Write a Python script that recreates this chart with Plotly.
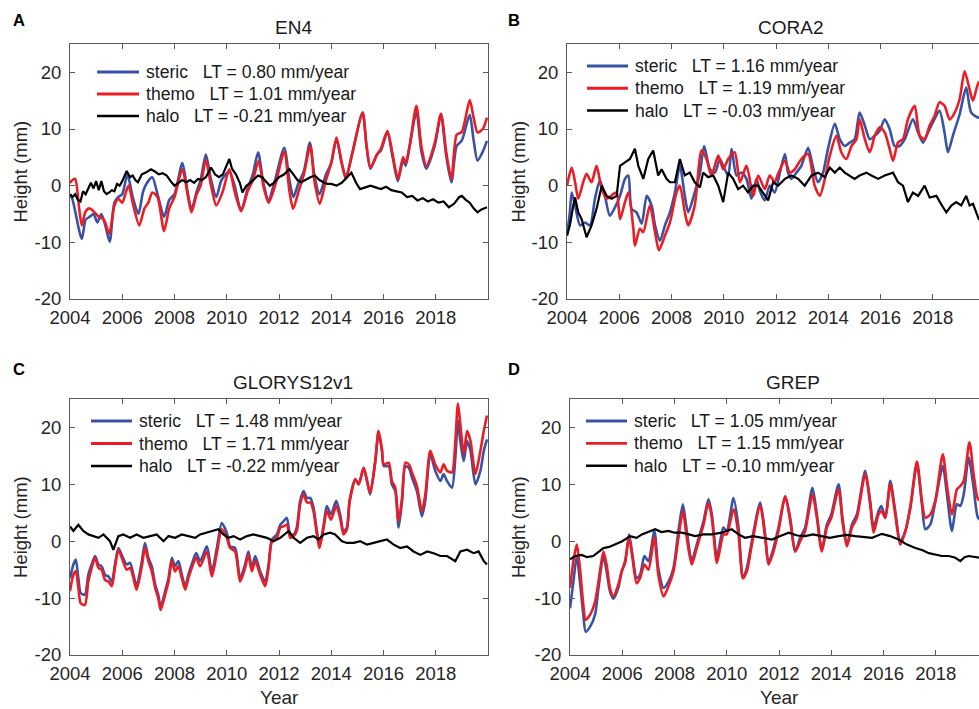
import plotly.graph_objects as go

W, H = 979, 709
FONT = "Liberation Sans, Arial, Helvetica, sans-serif"

# ---------------- Panel A : EN4 ----------------
A_steric_t = [2004.0, 2004.1, 2004.45, 2004.6, 2004.75, 2004.9, 2005.05, 2005.2, 2005.35, 2005.52, 2005.7, 2005.85,
              2006.0, 2006.2, 2006.4, 2006.62, 2006.8, 2006.95, 2007.15, 2007.35, 2007.6, 2007.8, 2008.0, 2008.3,
              2008.5, 2008.65, 2008.85, 2009.0, 2009.2, 2009.4, 2009.6, 2009.8, 2010.1, 2010.3, 2010.55, 2010.8,
              2011.0, 2011.2, 2011.4, 2011.6, 2011.85, 2012.2, 2012.4, 2012.55, 2012.75, 2012.95, 2013.18, 2013.35,
              2013.55, 2013.8, 2014.0, 2014.2, 2014.4, 2014.56, 2014.8, 2015.2, 2015.35, 2015.5, 2015.75, 2015.9,
              2016.15, 2016.35, 2016.55, 2016.75, 2016.85, 2017.0, 2017.26, 2017.45, 2017.64, 2017.96, 2018.2, 2018.4,
              2018.6, 2018.8, 2019.0, 2019.3, 2019.45, 2019.6, 2019.8, 2019.96]
A_steric_v = [-1.5, -2.5, -9.4, -6.0, -5.5, -5.0, -6.5, -5.0, -7.0, -9.9, -3.0, -2.0,
              -1.5, 2.0, -2.0, -5.0, -1.0, 0.5, 1.5, -1.5, -5.5, -2.5, -1.5, 4.0,
              -1.0, -4.2, -1.0, 1.0, 5.5, 1.0, -2.0, 1.0, 2.5, 0.0, -4.4, -0.5,
              2.0, 5.9, 0.5, -2.5, 1.0, 6.7, 1.0, -2.0, 0.5, 2.5, 7.6, 2.0,
              -1.5, 2.0, 4.0, 8.2, 4.0, 1.5, 5.6, 12.9, 7.0, 3.0, 5.5, 6.2,
              9.4, 5.0, 0.8, 4.5, 3.5, 7.0, 13.0, 6.0, 3.0, 7.0, 12.5, 5.3,
              0.6, 7.0, 8.0, 12.5, 8.0, 4.4, 6.0, 7.9]
A_thermo_t = [2004.0, 2004.1, 2004.2, 2004.35, 2004.45, 2004.6, 2004.75, 2004.9, 2005.1, 2005.3, 2005.5, 2005.7,
              2005.85, 2006.0, 2006.15, 2006.25, 2006.4, 2006.65, 2006.85, 2007.0, 2007.15, 2007.35, 2007.6, 2007.8,
              2008.0, 2008.3, 2008.5, 2008.65, 2008.85, 2009.0, 2009.2, 2009.4, 2009.6, 2009.85, 2010.1, 2010.3,
              2010.55, 2010.8, 2011.0, 2011.22, 2011.4, 2011.6, 2011.85, 2012.2, 2012.4, 2012.54, 2012.75, 2012.95,
              2013.2, 2013.35, 2013.56, 2013.8, 2014.0, 2014.2, 2014.4, 2014.56, 2014.8, 2015.2, 2015.35, 2015.5,
              2015.75, 2015.9, 2016.15, 2016.35, 2016.55, 2016.75, 2016.85, 2017.0, 2017.26, 2017.45, 2017.64, 2017.96,
              2018.2, 2018.4, 2018.6, 2018.8, 2019.0, 2019.3, 2019.45, 2019.6, 2019.8, 2019.96]
A_thermo_v = [0.5, 1.0, 1.2, -4.0, -7.0, -4.5, -4.0, -4.5, -5.5, -6.0, -8.5, -3.5,
              -2.3, -3.0, -1.0, 0.0, -3.0, -7.0, -4.0, -3.0, -1.2, -2.0, -8.0, -4.0,
              -2.0, 2.9, -1.5, -4.7, -1.5, 0.0, 4.5, 0.0, -3.5, -1.0, 2.9, -1.0,
              -4.5, -1.0, 1.0, 4.4, 0.0, -3.0, 0.0, 6.0, -1.0, -4.1, -1.0, 2.0,
              7.0, 1.0, -3.2, 1.0, 4.0, 8.5, 4.0, 1.2, 5.6, 12.9, 7.0, 3.2,
              5.5, 6.5, 9.7, 5.5, 1.2, 5.0, 4.0, 7.0, 14.1, 7.0, 3.5, 7.5,
              12.7, 6.0, 1.2, 9.0, 9.5, 15.1, 12.0, 9.4, 10.0, 12.0]
A_halo_t = [2004.0, 2004.1, 2004.2, 2004.3, 2004.4, 2004.5, 2004.6, 2004.7, 2004.8, 2004.9, 2005.0, 2005.1,
            2005.2, 2005.3, 2005.4, 2005.5, 2005.6, 2005.7, 2005.8, 2005.9, 2006.0, 2006.17, 2006.3, 2006.4,
            2006.5, 2006.6, 2006.75, 2006.9, 2007.1, 2007.25, 2007.4, 2007.55, 2007.7, 2007.85, 2008.0, 2008.15,
            2008.3, 2008.45, 2008.6, 2008.75, 2008.9, 2009.05, 2009.2, 2009.4, 2009.55, 2009.7, 2009.85, 2010.1,
            2010.2, 2010.35, 2010.5, 2010.6, 2010.75, 2010.9, 2011.05, 2011.2, 2011.35, 2011.5, 2011.65, 2011.8,
            2012.0, 2012.2, 2012.4, 2012.55, 2012.7, 2012.85, 2013.0, 2013.2, 2013.37, 2013.55, 2013.7, 2013.85,
            2014.0, 2014.2, 2014.4, 2014.6, 2014.77, 2014.95, 2015.1, 2015.3, 2015.5, 2015.7, 2015.9, 2016.1,
            2016.3, 2016.5, 2016.7, 2016.9, 2017.1, 2017.3, 2017.5, 2017.7, 2017.9, 2018.1, 2018.3, 2018.5,
            2018.7, 2018.9, 2019.0, 2019.15, 2019.3, 2019.45, 2019.6, 2019.75, 2019.96]
A_halo_v = [-1.5, -2.0, -1.5, -2.5, -2.8, -1.0, -1.5, -0.5, 0.5, -0.5, 0.8, -0.8,
            0.8, -1.0, -1.5, -1.2, -0.8, -1.0, 0.3, 0.0, 0.8, 2.6, 1.5, 1.8,
            1.0, 0.6, 2.0, 2.3, 2.9, 2.5, 2.0, 2.2, 1.8, 0.8, 0.0, 0.5,
            1.0, 0.6, 1.0, 0.5, 1.2, 1.0, 1.5, 3.2, 2.0, 1.5, 2.0, 4.7,
            3.0, 2.0, 0.5, -1.2, 0.0, 0.5, 1.2, 1.8, 1.5, 0.8, 0.0, 0.5,
            1.5, 2.0, 2.9, 2.0, 1.0, 0.6, 1.0, 1.5, 1.8, 1.0, 0.6, 0.3,
            0.3, 0.0, 0.5, 1.5, 2.3, 0.5, -0.6, -0.3, 0.0, -0.3, -0.6, -0.2,
            -0.8, -1.0, -1.2, -2.0, -1.8, -2.6, -2.2, -2.8, -2.4, -3.0, -2.8, -3.8,
            -3.2, -2.0, -1.8, -2.5, -3.0, -4.0, -4.7, -4.2, -3.8]

# ---------------- Panel B : CORA2 ----------------
B_steric_t = [2004.00, 2004.11, 2004.18, 2004.31, 2004.50, 2004.69, 2004.88, 2005.07, 2005.26, 2005.45, 2005.64, 2005.84,
              2006.03, 2006.22, 2006.35, 2006.47, 2006.66, 2006.86, 2007.05, 2007.24, 2007.37, 2007.56, 2007.75, 2007.94,
              2008.13, 2008.32, 2008.51, 2008.64, 2008.89, 2009.09, 2009.25, 2009.47, 2009.66, 2009.85, 2009.98, 2010.17,
              2010.30, 2010.49, 2010.68, 2010.87, 2011.06, 2011.25, 2011.38, 2011.57, 2011.76, 2011.95, 2012.15, 2012.34,
              2012.46, 2012.59, 2012.78, 2012.97, 2013.23, 2013.42, 2013.61, 2013.80, 2013.99, 2014.25, 2014.44, 2014.63,
              2014.82, 2015.01, 2015.20, 2015.40, 2015.59, 2015.78, 2015.97, 2016.16, 2016.35, 2016.54, 2016.73, 2016.93,
              2017.24, 2017.44, 2017.63, 2017.82, 2018.01, 2018.26, 2018.45, 2018.58, 2018.77, 2019.03, 2019.28, 2019.47,
              2019.76, 2019.95]
B_steric_v = [-8.8, -4.7, -1.2, -3.5, -7.0, -6.5, -7.0, -2.3, 0.9, -1.8, -5.3, -3.8,
              -1.8, 1.2, 1.8, -4.1, -4.7, -6.7, -1.8, -3.5, -7.0, -9.7, -7.0, -4.7,
              -1.2, 3.5, -1.8, -4.7, -1.2, 2.3, 7.0, 2.9, 2.3, 4.7, 3.5, 1.8,
              6.5, 1.8, 2.3, 1.2, -2.3, 1.2, -0.9, -2.6, 0.0, -1.2, 2.3, 5.6,
              2.3, 1.2, 2.3, 3.5, 6.7, 3.2, 0.6, 2.3, 6.5, 10.9, 8.2, 7.0,
              7.6, 8.2, 12.9, 10.6, 8.2, 8.8, 9.7, 11.7, 10.0, 7.0, 7.0, 8.2,
              11.7, 9.4, 7.6, 9.4, 11.2, 13.2, 9.4, 5.9, 8.8, 12.6, 17.3, 12.9,
              12.0, 12.5]
B_thermo_t = [2004.00, 2004.18, 2004.31, 2004.43, 2004.62, 2004.75, 2004.94, 2005.13, 2005.33, 2005.52, 2005.77, 2005.90,
              2006.03, 2006.22, 2006.35, 2006.54, 2006.60, 2006.79, 2006.92, 2007.17, 2007.37, 2007.52, 2007.75, 2007.94,
              2008.19, 2008.32, 2008.51, 2008.64, 2008.89, 2009.15, 2009.34, 2009.53, 2009.79, 2009.98, 2010.17, 2010.42,
              2010.62, 2010.87, 2011.13, 2011.32, 2011.57, 2011.76, 2011.95, 2012.08, 2012.34, 2012.53, 2012.72, 2012.97,
              2013.23, 2013.48, 2013.68, 2013.87, 2014.06, 2014.31, 2014.50, 2014.69, 2014.89, 2015.08, 2015.20, 2015.40,
              2015.59, 2015.78, 2015.97, 2016.16, 2016.35, 2016.48, 2016.67, 2016.86, 2017.05, 2017.31, 2017.50, 2017.69,
              2017.88, 2018.07, 2018.26, 2018.45, 2018.65, 2018.84, 2019.03, 2019.22, 2019.41, 2019.54, 2019.76, 2019.95]
B_thermo_v = [0.0, 3.2, 0.6, -2.3, 0.6, 2.1, 0.6, 3.5, -0.6, -2.3, -1.5, -1.2,
              -5.9, -2.9, -1.2, -7.6, -10.6, -7.6, -8.2, -3.5, -8.2, -11.4, -8.8, -6.5,
              -1.2, 0.0, -4.7, -7.0, -3.5, 6.2, 4.7, 1.8, 5.3, 2.9, 4.7, 5.9,
              0.6, 3.5, -1.8, 1.8, -0.6, 1.8, 0.6, 2.1, 4.4, 2.3, 2.9, 4.7,
              5.6, 0.0, -1.8, 1.2, 5.3, 8.8, 5.9, 4.7, 7.0, 8.2, 11.7, 8.2,
              5.9, 8.8, 10.3, 9.4, 6.5, 4.4, 7.6, 8.2, 11.7, 14.1, 8.8, 8.2,
              10.6, 12.3, 14.7, 14.1, 11.7, 12.9, 15.3, 20.2, 17.0, 15.0, 18.2, 18.5]
B_halo_t = [2004.00, 2004.11, 2004.24, 2004.31, 2004.43, 2004.56, 2004.75, 2004.94, 2005.13, 2005.33, 2005.52, 2005.71,
            2005.90, 2006.03, 2006.22, 2006.41, 2006.60, 2006.73, 2006.92, 2007.11, 2007.30, 2007.49, 2007.62, 2007.81,
            2007.94, 2008.13, 2008.32, 2008.51, 2008.70, 2008.89, 2009.09, 2009.21, 2009.40, 2009.60, 2009.79, 2009.98,
            2010.17, 2010.36, 2010.55, 2010.74, 2010.93, 2011.13, 2011.32, 2011.51, 2011.70, 2011.89, 2012.08, 2012.34,
            2012.59, 2012.85, 2013.10, 2013.36, 2013.61, 2013.87, 2014.06, 2014.25, 2014.44, 2014.63, 2014.82, 2015.01,
            2015.20, 2015.46, 2015.65, 2015.91, 2016.16, 2016.48, 2016.67, 2016.86, 2017.05, 2017.24, 2017.44, 2017.69,
            2017.88, 2018.14, 2018.39, 2018.52, 2018.71, 2018.90, 2019.09, 2019.28, 2019.41, 2019.54, 2019.76, 2019.95]
B_halo_v = [-8.8, -7.0, -3.5, -2.1, -4.7, -5.9, -9.1, -7.0, -4.1, 0.0, -1.8, -2.3,
            -1.8, 3.5, 4.1, 4.7, 6.5, 3.5, 1.2, 4.7, 6.2, 1.8, 2.9, 1.2,
            0.6, 0.6, 4.7, 1.8, 2.3, 0.6, -0.3, 2.3, 1.5, 1.8, 0.0, -2.9,
            2.3, 1.2, -0.6, 0.0, -1.2, 0.0, 0.0, -1.2, -2.6, 0.6, 0.0, 1.2,
            1.8, 1.2, 0.0, 1.8, 2.3, 1.5, 3.2, 2.3, 3.2, 2.3, 1.8, 1.2,
            1.8, 2.3, 1.8, 1.2, 1.8, 2.3, 0.6, 0.0, -2.9, -1.2, -1.8, 0.0,
            -2.1, -1.8, -3.8, -4.7, -3.5, -2.9, -3.5, -1.8, -3.5, -3.2, -5.9, -6.0]

# ---------------- Panel C : GLORYS12v1 ----------------
C_steric_t = [2004.00, 2004.13, 2004.22, 2004.32, 2004.41, 2004.57, 2004.70, 2004.83, 2004.96, 2005.09, 2005.21, 2005.34,
              2005.47, 2005.60, 2005.72, 2005.85, 2005.98, 2006.17, 2006.30, 2006.43, 2006.55, 2006.75, 2006.87, 2007.00,
              2007.13, 2007.26, 2007.38, 2007.47, 2007.64, 2007.77, 2007.90, 2008.02, 2008.15, 2008.28, 2008.41, 2008.53,
              2008.66, 2008.83, 2008.98, 2009.24, 2009.43, 2009.62, 2009.81, 2010.00, 2010.13, 2010.32, 2010.51, 2010.70,
              2010.83, 2010.96, 2011.09, 2011.28, 2011.47, 2011.60, 2011.73, 2011.92, 2012.05, 2012.17, 2012.30, 2012.43,
              2012.56, 2012.68, 2012.81, 2012.94, 2013.07, 2013.20, 2013.32, 2013.45, 2013.55, 2013.71, 2013.83, 2013.99,
              2014.19, 2014.34, 2014.47, 2014.60, 2014.70, 2014.92, 2015.05, 2015.24, 2015.37, 2015.49, 2015.69, 2015.81,
              2015.94, 2016.01, 2016.20, 2016.32, 2016.45, 2016.58, 2016.71, 2016.84, 2016.97, 2017.09, 2017.28, 2017.47,
              2017.60, 2017.79, 2017.98, 2018.18, 2018.30, 2018.43, 2018.62, 2018.75, 2018.85, 2018.94, 2019.07, 2019.20,
              2019.33, 2019.52, 2019.71, 2019.84, 2019.96]
C_steric_v = [-6.5, -4.1, -3.2, -6.5, -9.1, -9.4, -5.9, -4.1, -2.6, -4.1, -4.4, -5.9,
              -6.2, -7.1, -4.1, -1.2, -2.4, -4.1, -3.8, -5.9, -7.9, -3.5, -0.3, -2.9,
              -4.4, -7.6, -9.4, -11.5, -8.8, -6.5, -2.9, -4.4, -3.5, -5.9, -7.9, -5.9,
              -4.1, -2.1, -3.5, -0.9, -5.3, -1.2, 3.2, 1.5, -0.9, -1.2, -6.5, -4.1,
              -1.8, -4.7, -2.6, -5.3, -7.1, -4.1, 0.3, 1.2, 2.9, 3.5, 4.1, 1.2,
              1.2, 2.4, 7.1, 8.8, 7.6, 7.6, 5.9, 1.8, -0.9, 2.9, 6.2, 4.7,
              7.1, 4.7, 1.8, 2.4, 7.1, 10.9, 10.0, 12.9, 10.6, 8.2, 14.1, 19.1,
              15.9, 13.2, 13.2, 10.0, 8.8, 2.4, 7.1, 13.2, 12.9, 11.2, 8.8, 4.4,
              7.1, 15.3, 12.4, 10.6, 11.8, 10.6, 9.4, 14.7, 21.2, 17.6, 14.1, 17.6,
              15.9, 10.0, 12.4, 15.9, 17.9]
C_thermo_t = C_steric_t
C_thermo_v = [-8.8, -5.9, -5.3, -8.2, -10.9, -11.2, -7.1, -4.7, -2.9, -4.7, -5.0, -6.8,
              -7.1, -7.9, -4.7, -1.5, -2.9, -5.0, -4.7, -6.5, -8.5, -4.4, -1.2, -3.5,
              -5.3, -8.2, -10.0, -12.1, -9.4, -7.1, -3.5, -5.3, -4.4, -6.5, -8.5, -6.5,
              -4.7, -2.9, -4.4, -1.8, -6.2, -2.1, 2.1, 0.6, -1.2, -1.8, -7.1, -4.7,
              -2.4, -5.3, -3.5, -5.9, -7.9, -4.7, 0.0, 0.6, 2.4, 2.6, 2.9, 0.6,
              0.9, 1.8, 6.5, 8.2, 6.8, 6.8, 5.3, 1.2, -1.2, 2.4, 5.3, 3.8,
              6.2, 4.1, 1.2, 2.1, 6.8, 10.9, 10.0, 12.9, 10.6, 8.5, 14.4, 19.4,
              16.2, 13.5, 13.8, 10.6, 9.4, 3.5, 7.6, 13.8, 13.5, 12.1, 9.7, 5.3,
              8.2, 15.9, 13.5, 12.1, 13.5, 12.4, 12.1, 17.6, 24.2, 20.6, 15.3, 19.4,
              17.6, 11.8, 15.9, 19.4, 22.1]
C_halo_t = [2004.00, 2004.13, 2004.32, 2004.51, 2004.70, 2004.89, 2005.09, 2005.28, 2005.53, 2005.66, 2005.85, 2006.04,
            2006.30, 2006.55, 2006.81, 2007.07, 2007.32, 2007.58, 2007.77, 2008.02, 2008.28, 2008.53, 2008.79, 2008.98,
            2009.24, 2009.49, 2009.68, 2009.87, 2010.07, 2010.26, 2010.51, 2010.77, 2011.02, 2011.28, 2011.54, 2011.79,
            2012.05, 2012.37, 2012.56, 2012.81, 2013.07, 2013.32, 2013.51, 2013.71, 2013.96, 2014.15, 2014.41, 2014.60,
            2014.86, 2015.11, 2015.37, 2015.62, 2015.88, 2016.13, 2016.39, 2016.64, 2016.90, 2017.15, 2017.41, 2017.67,
            2017.92, 2018.18, 2018.43, 2018.75, 2018.94, 2019.20, 2019.45, 2019.64, 2019.84, 2019.96]
C_halo_v = [2.6, 1.8, 2.9, 1.8, 1.2, 0.9, 0.6, 1.2, 0.0, -1.5, 0.9, 1.2,
            0.6, 1.2, 0.6, 0.9, 1.2, 0.0, 0.9, 0.6, 1.2, 0.9, 0.6, 1.2,
            1.5, 1.8, 2.1, 1.2, 0.6, 0.9, 0.3, 0.9, 1.2, 0.9, 0.6, 0.0,
            0.6, 1.8, 0.6, -0.3, 0.6, 0.9, 0.3, 1.2, 1.5, 1.2, 0.0, -0.3,
            -0.3, 0.0, -0.6, -0.3, 0.0, 0.3, -0.6, -1.2, -0.9, -1.8, -2.4, -1.8,
            -2.1, -2.6, -2.6, -3.5, -1.8, -1.5, -2.1, -1.8, -3.5, -4.1]

# ---------------- Panel D : GREP ----------------
D_steric_t = [2004.00, 2004.13, 2004.26, 2004.38, 2004.51, 2004.60, 2004.77, 2004.96, 2005.09, 2005.28, 2005.40, 2005.53,
              2005.66, 2005.85, 2005.98, 2006.11, 2006.26, 2006.39, 2006.55, 2006.68, 2006.85, 2007.00, 2007.23, 2007.38,
              2007.58, 2007.77, 2007.96, 2008.15, 2008.32, 2008.47, 2008.60, 2008.66, 2008.85, 2009.11, 2009.30, 2009.43,
              2009.62, 2009.75, 2009.87, 2010.00, 2010.26, 2010.45, 2010.62, 2010.77, 2010.96, 2011.28, 2011.47, 2011.60,
              2011.79, 2011.98, 2012.24, 2012.43, 2012.62, 2012.81, 2013.00, 2013.28, 2013.45, 2013.64, 2013.83, 2014.00,
              2014.28, 2014.43, 2014.60, 2014.79, 2014.98, 2015.30, 2015.49, 2015.62, 2015.81, 2015.92, 2016.07, 2016.26,
              2016.45, 2016.64, 2016.84, 2017.03, 2017.28, 2017.47, 2017.60, 2017.79, 2017.98, 2018.27, 2018.43, 2018.62,
              2018.81, 2018.94, 2019.07, 2019.26, 2019.45, 2019.62, 2019.80]
D_steric_v = [-11.8, -7.1, -2.6, -7.1, -12.9, -15.9, -15.0, -12.9, -8.2, -2.6, -5.3, -8.8,
              -10.1, -8.2, -5.3, -3.8, 1.2, -2.4, -6.5, -5.9, -2.6, -3.5, 1.8, -4.7,
              -8.2, -7.1, -4.7, 1.8, 6.5, 1.8, -2.4, -3.5, -0.6, 3.5, 7.4, 4.7,
              -2.9, 0.0, 2.4, 1.8, 7.6, 2.4, -6.5, -4.7, 0.0, 6.8, 1.2, -3.8,
              -1.2, 2.4, 7.9, 4.1, -1.8, 0.6, 2.4, 9.4, 4.7, -1.5, 2.9, 4.7,
              10.0, 4.1, -0.6, 2.9, 4.7, 12.4, 7.1, 2.4, 5.3, 6.2, 4.1, 10.6,
              5.3, 0.0, 1.8, 5.9, 13.5, 6.5, 2.1, 2.9, 6.8, 13.2, 8.2, 1.8,
              6.5, 6.2, 8.2, 14.7, 9.4, 4.1, 3.5]
D_thermo_t = [2004.00, 2004.13, 2004.26, 2004.38, 2004.51, 2004.60, 2004.77, 2004.96, 2005.09, 2005.28, 2005.40, 2005.53,
              2005.66, 2005.85, 2005.98, 2006.11, 2006.26, 2006.39, 2006.55, 2006.68, 2006.85, 2007.00, 2007.23, 2007.38,
              2007.58, 2007.77, 2007.96, 2008.15, 2008.32, 2008.47, 2008.66, 2008.85, 2009.11, 2009.30, 2009.43, 2009.62,
              2009.75, 2009.87, 2010.00, 2010.26, 2010.45, 2010.62, 2010.77, 2010.96, 2011.28, 2011.47, 2011.60, 2011.79,
              2011.98, 2012.24, 2012.43, 2012.62, 2012.81, 2013.00, 2013.28, 2013.45, 2013.64, 2013.83, 2014.00, 2014.28,
              2014.43, 2014.60, 2014.79, 2014.98, 2015.30, 2015.49, 2015.62, 2015.81, 2015.92, 2016.07, 2016.26, 2016.45,
              2016.64, 2016.84, 2017.03, 2017.28, 2017.47, 2017.60, 2017.79, 2017.98, 2018.27, 2018.43, 2018.62, 2018.81,
              2018.94, 2019.07, 2019.29, 2019.45, 2019.62, 2019.80]
D_thermo_v = [-8.2, -3.5, -0.6, -4.7, -11.2, -13.8, -12.9, -10.6, -7.1, -1.8, -4.1, -8.2,
              -9.7, -7.6, -5.3, -3.5, 0.6, -2.9, -7.4, -6.5, -4.1, -5.0, 0.6, -5.9,
              -9.7, -7.9, -5.3, 0.6, 5.3, 0.6, -4.1, -1.2, 2.9, 6.8, 4.1, -3.8,
              -1.2, 1.2, 1.2, 5.6, 1.2, -6.5, -5.3, -0.6, 6.2, 0.6, -4.1, -1.8,
              1.8, 7.9, 3.5, -1.8, 0.0, 1.8, 8.2, 4.1, -1.8, 2.4, 4.1, 9.1,
              3.5, -0.9, 2.4, 4.1, 11.8, 6.5, 1.5, 4.7, 5.3, 4.1, 10.0, 4.7,
              -0.6, 1.8, 6.2, 14.0, 7.1, 4.1, 4.7, 7.1, 15.3, 9.7, 4.7, 9.1,
              9.7, 10.6, 17.4, 11.8, 7.4, 7.0]
D_halo_t = [2004.00, 2004.20, 2004.45, 2004.65, 2004.89, 2005.10, 2005.28, 2005.50, 2005.72, 2006.00, 2006.30, 2006.55,
            2006.75, 2007.00, 2007.26, 2007.50, 2007.77, 2008.00, 2008.28, 2008.55, 2008.79, 2009.10, 2009.43, 2009.80,
            2010.19, 2010.45, 2010.70, 2011.00, 2011.34, 2011.73, 2012.05, 2012.37, 2012.70, 2013.00, 2013.30, 2013.64,
            2013.95, 2014.28, 2014.60, 2014.92, 2015.25, 2015.56, 2015.94, 2016.25, 2016.58, 2016.90, 2017.22, 2017.50,
            2017.73, 2018.00, 2018.24, 2018.50, 2018.75, 2018.94, 2019.10, 2019.26, 2019.45, 2019.67, 2019.85]
D_halo_v = [-3.2, -2.6, -2.4, -2.8, -2.6, -1.8, -1.2, -1.0, -0.6, 0.0, 0.9, 0.6,
            1.2, 1.6, 2.1, 1.6, 1.8, 1.5, 1.5, 1.2, 0.9, 1.2, 1.2, 1.5,
            2.1, 1.2, 0.6, 0.9, 0.6, 0.3, 0.9, 1.5, 1.0, 0.9, 1.2, 0.9,
            0.6, 0.9, 1.1, 0.9, 0.8, 0.6, 1.3, 0.9, 0.3, -0.6, -1.2, -1.6,
            -2.1, -2.3, -2.6, -2.6, -2.9, -3.5, -2.8, -2.6, -2.8, -2.9, -3.0]

LEGEND_TEXT = {
    "A": ["steric\u00a0\u00a0\u00a0LT = 0.80 mm/year", "themo\u00a0\u00a0\u00a0LT = 1.01 mm/year", "halo\u00a0\u00a0\u00a0LT = -0.21 mm/year"],
    "B": ["steric\u00a0\u00a0\u00a0LT = 1.16 mm/year", "themo\u00a0\u00a0\u00a0LT = 1.19 mm/year", "halo\u00a0\u00a0\u00a0LT = -0.03 mm/year"],
    "C": ["steric\u00a0\u00a0\u00a0LT = 1.48 mm/year", "themo\u00a0\u00a0\u00a0LT = 1.71 mm/year", "halo\u00a0\u00a0\u00a0LT = -0.22 mm/year"],
    "D": ["steric\u00a0\u00a0\u00a0LT = 1.05 mm/year", "themo\u00a0\u00a0\u00a0LT = 1.15 mm/year", "halo\u00a0\u00a0\u00a0LT = -0.10 mm/year"],
}
TITLES = {"A": "EN4", "B": "CORA2", "C": "GLORYS12v1", "D": "GREP"}
X_TICKS = [2004, 2006, 2008, 2010, 2012, 2014, 2016, 2018]
Y_TICKS = [-20, -10, 0, 10, 20]

BLUE = "#3953a4"
RED = "#ec1c24"
BLACK = "#000000"
AXC = "#5a5a5a"

DATA = {
    "A": [(A_steric_t, A_steric_v), (A_thermo_t, A_thermo_v), (A_halo_t, A_halo_v)],
    "B": [(B_steric_t, B_steric_v), (B_thermo_t, B_thermo_v), (B_halo_t, B_halo_v)],
    "C": [(C_steric_t, C_steric_v), (C_thermo_t, C_thermo_v), (C_halo_t, C_halo_v)],
    "D": [(D_steric_t, D_steric_v), (D_thermo_t, D_thermo_v), (D_halo_t, D_halo_v)],
}

# layout geometry in pixels (left, right, top, bottom)
GEOM = {
    "A": (70, 488, 44, 299),
    "B": (567, 985, 44, 299),
    "C": (70, 488, 399, 655),
    "D": (570, 988, 399, 655),
}
# legend key: line start, line end, text start, first row y, row step (pixels)
LEG = {
    "A": (97, 139, 144, 72, 22),
    "B": (587, 628, 633, 66, 22.3),
    "C": (91, 132, 137, 421, 22.5),
    "D": (586, 627, 632, 421, 22.4),
}

COLORS = [BLUE, RED, BLACK]
WIDTHS = [2.6, 2.6, 2.2]

fig = go.Figure()
annotations = []
shapes = []
for idx, key in enumerate(["A", "B", "C", "D"]):
    n = idx + 1
    xa = "x" if n == 1 else f"x{n}"
    ya = "y" if n == 1 else f"y{n}"
    for j, (t, v) in enumerate(DATA[key]):
        fig.add_trace(go.Scatter(
            x=t, y=v, mode="lines", name=LEGEND_TEXT[key][j],
            line=dict(color=COLORS[j], width=WIDTHS[j],
                      shape="spline" if j < 2 else "linear", smoothing=0.7),
            xaxis=xa, yaxis=ya, showlegend=False,
        ))
    l, r, t_, b = GEOM[key]
    ppy = (r - l) / 16.0
    xmax = 2004 + (min(r, W) - l) / ppy
    full_box = r <= W
    xaxis = dict(
        domain=[l / W, min(r, W) / W], range=[2004, xmax], anchor=ya,
        tickvals=X_TICKS, ticktext=[str(v) for v in X_TICKS],
        showline=True, linecolor=AXC, linewidth=1, mirror="ticks",
        ticks="inside", ticklen=5, tickcolor=AXC, tickwidth=1,
        showgrid=False, zeroline=False, automargin=False,
        tickfont=dict(family=FONT, size=18.5, color="#262626"),
        ticklabelstandoff=2,
    )
    yaxis = dict(
        domain=[1 - b / H, 1 - t_ / H], range=[-20, 25], anchor=xa,
        tickvals=Y_TICKS, ticktext=[str(v) for v in Y_TICKS],
        showline=True, linecolor=AXC, linewidth=1,
        mirror="ticks" if full_box else False,
        ticks="inside", ticklen=5, tickcolor=AXC, tickwidth=1,
        showgrid=False, zeroline=False, automargin=False,
        tickfont=dict(family=FONT, size=18.5, color="#262626"),
        ticklabelstandoff=4,
    )
    fig.update_layout({("xaxis" if n == 1 else f"xaxis{n}"): xaxis,
                       ("yaxis" if n == 1 else f"yaxis{n}"): yaxis})

    # legend (key lines + labels)
    x0, x1, tx, y0, dy = LEG[key]
    for j in range(3):
        yy = 1 - (y0 + j * dy) / H
        shapes.append(dict(type="line", xref="paper", yref="paper", x0=x0 / W, x1=x1 / W, y0=yy, y1=yy,
                           line=dict(color=COLORS[j], width=WIDTHS[j] + 0.3)))
        annotations.append(dict(text=LEGEND_TEXT[key][j], x=tx / W, y=yy, xref="paper", yref="paper",
                                showarrow=False, xanchor="left", yanchor="middle",
                                font=dict(family=FONT, size=17.6, color="#1a1a1a")))
    # panel title
    cx = (l + r) / 2 + 14
    cy = t_ - 17
    annotations.append(dict(text=TITLES[key], x=cx / W, y=1 - cy / H, xref="paper", yref="paper",
                            showarrow=False, xanchor="center", yanchor="middle",
                            font=dict(family=FONT, size=19, color="#1a1a1a")))
    # panel letter
    lab_x = 19 if l < 300 else 514
    lab_y = 20 if t_ < 300 else 369
    annotations.append(dict(text="<b>%s</b>" % key, x=lab_x / W, y=1 - lab_y / H, xref="paper", yref="paper",
                            showarrow=False, xanchor="center", yanchor="middle",
                            font=dict(family=FONT, size=16.5, color="#000000")))
    # y axis title
    ytx = 20 if l < 300 else 518
    annotations.append(dict(text="Height (mm)", x=ytx / W, y=1 - ((t_ + b) / 2) / H, xref="paper", yref="paper",
                            showarrow=False, xanchor="center", yanchor="middle", textangle=-90,
                            font=dict(family=FONT, size=18.5, color="#262626")))
    if key in ("C", "D"):
        annotations.append(dict(text="Year", x=((l + r) / 2) / W, y=1 - 697 / H, xref="paper", yref="paper",
                                showarrow=False, xanchor="center", yanchor="middle",
                                font=dict(family=FONT, size=19, color="#262626")))

fig.update_layout(
    template="none",
    width=W, height=H, autosize=False,
    margin=dict(l=0, r=0, t=0, b=0, pad=0),
    paper_bgcolor="white", plot_bgcolor="white",
    annotations=annotations, shapes=shapes,
    showlegend=False, hovermode=False,
    font=dict(family=FONT),
)

fig.write_html("out.html", config={"displayModeBar": False, "staticPlot": True},
               post_script="document.body.style.margin='0px';document.body.style.overflow='hidden';")
